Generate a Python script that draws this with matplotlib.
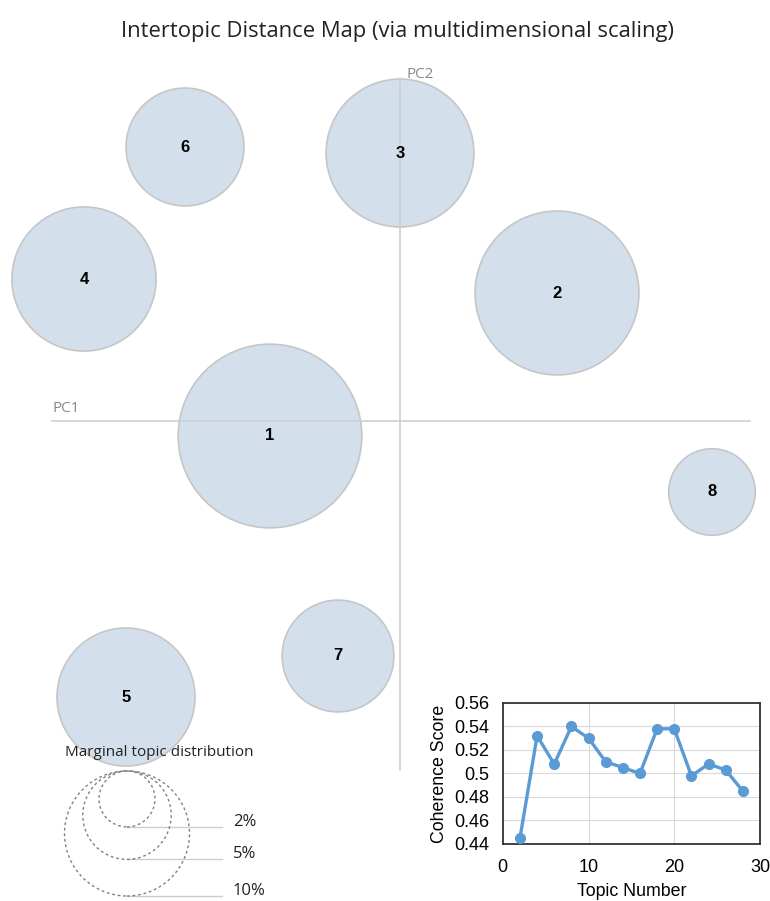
import numpy as np
import matplotlib.pyplot as plt
from matplotlib.patches import Circle

# topic positions (MDS coords) and marginal size (% of tokens)
topic_ids = ["1", "2", "3", "4", "5", "6", "7", "8"]
topic_x = [-1.30, 1.57, 0.00, -3.16, -2.74, -2.15, -0.62, 3.12]
topic_y = [-0.15, 1.28, 2.68, 1.42, -2.76, 2.74, -2.35, -0.71]
topic_size = [21.6, 17.2, 14.0, 13.3, 12.2, 8.9, 8.0, 4.8]

legend_sizes = [2, 5, 10]
legend_labels = ["2%", "5%", "10%"]

# coherence scores vs number of topics
n_topics = [2, 4, 6, 8, 10, 12, 14, 16, 18, 20, 22, 24, 26, 28]
coherence = [0.445, 0.532, 0.508, 0.540, 0.530, 0.510, 0.505, 0.500,
             0.538, 0.538, 0.498, 0.508, 0.503, 0.485]

def radius(p):
    return 0.625 * np.sqrt(p / 10.0)

fig = plt.figure(figsize=(7.7, 9.01), dpi=100)
ax = fig.add_axes([0, 0, 1, 1])
ax.set_xlim(-4.0, 3.70)
ax.set_ylim(-4.80, 4.21)
ax.set_aspect("equal")
ax.axis("off")

fill = "#d1dfea"
edge = "#c4c4c4"
for tid, x, y, s in zip(topic_ids, topic_x, topic_y, topic_size):
    ax.add_patch(Circle((x, y), radius(s), facecolor=fill, edgecolor=edge,
                        linewidth=1.2, alpha=0.95, zorder=2))
    ax.text(x, y, tid, ha="center", va="center", fontsize=12, fontweight="heavy",
            family="Liberation Sans", color="#000000", zorder=4)

# PC axes
ax.plot([-3.48, 3.50], [0, 0], color="#cfcfcf", lw=1.2, zorder=3)
ax.plot([0, 0], [3.43, -3.49], color="#cfcfcf", lw=1.2, zorder=3)
ax.text(-3.48, 0.05, "PC1", color="#8a8a8a", fontsize=11, family="Open Sans",
        ha="left", va="bottom")
ax.text(0.07, 3.39, "PC2", color="#8a8a8a", fontsize=11, family="Open Sans",
        ha="left", va="bottom")

ax.text(-0.02, 3.90, "Intertopic Distance Map (via multidimensional scaling)",
        ha="center", va="center", fontsize=15.8, family="Open Sans", color="#222222")

# size legend
top = -3.50
cx = -2.73
ax.text(-3.35, -3.32, "Marginal topic distribution", fontsize=11,
        family="Open Sans", color="#222222", ha="left", va="center")
for p, lab in zip(legend_sizes, legend_labels):
    r = radius(p)
    ax.add_patch(Circle((cx, top - r), r, facecolor="none", edgecolor="#808080",
                        linestyle=(0, (2, 2)), linewidth=1.0, zorder=3))
    ax.plot([cx, -1.78], [top - 2 * r, top - 2 * r], color="#cccccc", lw=1.0, zorder=2)
    ax.text(-1.67, top - 2 * r + 0.05, lab, fontsize=12, family="Open Sans",
            color="#222222", ha="left", va="center")

# coherence inset
ins = fig.add_axes([0.653, 0.0633, 0.334, 0.1565])
ins.plot(n_topics, coherence, color="#5b9bd5", lw=2.4, marker="o", markersize=7,
         zorder=3)
ins.set_xlim(0, 30)
ins.set_ylim(0.44, 0.56)
ins.set_xticks([0, 10, 20, 30])
ins.set_yticks([0.44, 0.46, 0.48, 0.50, 0.52, 0.54, 0.56])
ins.set_yticklabels(["0.44", "0.46", "0.48", "0.5", "0.52", "0.54", "0.56"])
ins.grid(True, color="#d9d9d9", lw=0.8)
ins.tick_params(length=0, labelsize=13)
ins.tick_params(axis="y", pad=10)
ins.tick_params(axis="x", pad=11)
for lab in ins.get_xticklabels() + ins.get_yticklabels():
    lab.set_family("Liberation Sans")
for sp in ins.spines.values():
    sp.set_color("#333333")
    sp.set_linewidth(1.3)
ins.set_xlabel("Topic Number", fontsize=12.8, family="Liberation Sans", labelpad=5)
ins.set_ylabel("Coherence Score", fontsize=12.8, family="Liberation Sans", labelpad=4)

fig.savefig("out.png", dpi=100)
